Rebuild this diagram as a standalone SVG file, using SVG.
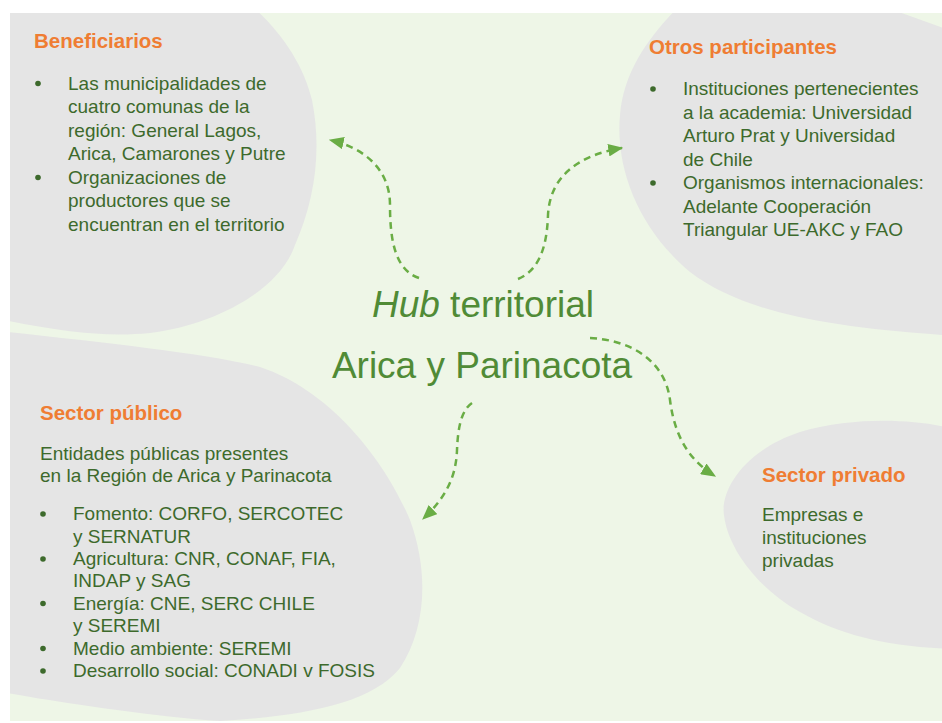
<svg xmlns="http://www.w3.org/2000/svg" width="942" height="723" viewBox="0 0 942 723">
  <style>
    .blob { fill: #e5e5e5; }
    .title { font-family: "Liberation Sans", Arial, sans-serif; font-weight: bold; font-size: 20.5px; fill: #ef7d33; }
    .body { font-family: "Liberation Sans", Arial, sans-serif; font-size: 19px; fill: #3d6a2c; }
    .hub { font-family: "Liberation Sans", Arial, sans-serif; font-size: 37px; fill: #508b36; }
    .dot { fill: #3d6a2c; }
    .conn { fill: none; stroke: #6aad45; stroke-width: 2.5; stroke-dasharray: 7 5; }
  </style>
  <defs>
    <clipPath id="panel">
      <rect x="10" y="13" width="932" height="708"/>
    </clipPath>
    <marker id="arrow" viewBox="0 0 12 10" refX="11" refY="5" markerUnits="userSpaceOnUse" markerWidth="15" markerHeight="12.5" orient="auto">
      <path d="M0,0 L12,5 L0,10 Z" fill="#6aad45"/>
    </marker>
  </defs>
  <rect x="0" y="0" width="942" height="723" fill="#ffffff"/>
  <rect x="10" y="13" width="932" height="708" fill="#eef6e7"/>

  <g id="beneficiarios">
    <path class="blob" clip-path="url(#panel)" d="M -20,-20 L 215,-20 C 260,5 300,50 312,100 C 322,150 315,200 295,245 C 280,290 215,325 150,333 C 100,338 50,330 -20,315 Z"/>
    <text class="title" x="34" y="48">Beneficiarios</text>
    <circle class="dot" cx="38" cy="83.5" r="2.8"/>
    <circle class="dot" cx="38" cy="177.5" r="2.8"/>
    <text class="body" x="68" y="89.5">Las municipalidades de</text>
    <text class="body" x="68" y="113">cuatro comunas de la</text>
    <text class="body" x="68" y="136.5">región: General Lagos,</text>
    <text class="body" x="68" y="160">Arica, Camarones y Putre</text>
    <text class="body" x="68" y="183.5">Organizaciones de</text>
    <text class="body" x="68" y="207">productores que se</text>
    <text class="body" x="68" y="230.5">encuentran en el territorio</text>
  </g>

  <g id="otros-participantes">
    <path class="blob" clip-path="url(#panel)" d="M 705,-20 C 670,15 625,55 620,115 C 615,170 640,230 690,272 C 740,310 820,328 960,336 L 960,34 L 810,-20 Z"/>
    <text class="title" x="649" y="54">Otros participantes</text>
    <circle class="dot" cx="653" cy="89" r="2.8"/>
    <circle class="dot" cx="653" cy="183" r="2.8"/>
    <text class="body" x="683" y="95">Instituciones pertenecientes</text>
    <text class="body" x="683" y="118.5">a la academia: Universidad</text>
    <text class="body" x="683" y="142">Arturo Prat y Universidad</text>
    <text class="body" x="683" y="165.5">de Chile</text>
    <text class="body" x="683" y="189">Organismos internacionales:</text>
    <text class="body" x="683" y="212.5">Adelante Cooperación</text>
    <text class="body" x="683" y="236">Triangular UE-AKC y FAO</text>
  </g>

  <g id="sector-publico">
    <path class="blob" clip-path="url(#panel)" d="M -20,329 C 80,340 200,352 260,367 C 330,390 385,460 410,520 C 430,575 425,630 400,668 C 370,705 300,716 220,721 C 150,716 60,703 -20,688 Z"/>
    <text class="title" x="40" y="420">Sector público</text>
    <text class="body" x="40" y="460">Entidades públicas presentes</text>
    <text class="body" x="40" y="482">en la Región de Arica y Parinacota</text>
    <circle class="dot" cx="43" cy="514" r="2.8"/>
    <circle class="dot" cx="43" cy="559" r="2.8"/>
    <circle class="dot" cx="43" cy="603.5" r="2.8"/>
    <circle class="dot" cx="43" cy="648.5" r="2.8"/>
    <circle class="dot" cx="43" cy="671" r="2.8"/>
    <text class="body" x="73" y="520">Fomento: CORFO, SERCOTEC</text>
    <text class="body" x="73" y="542.5">y SERNATUR</text>
    <text class="body" x="73" y="565">Agricultura: CNR, CONAF, FIA,</text>
    <text class="body" x="73" y="587">INDAP y SAG</text>
    <text class="body" x="73" y="609.5">Energía: CNE, SERC CHILE</text>
    <text class="body" x="73" y="632">y SEREMI</text>
    <text class="body" x="73" y="654.5">Medio ambiente: SEREMI</text>
    <text class="body" x="73" y="677">Desarrollo social: CONADI v FOSIS</text>
  </g>

  <g id="sector-privado">
    <path class="blob" clip-path="url(#panel)" d="M 960,430 C 920,420 860,415 800,432 C 745,450 720,490 724,515 C 728,550 760,590 800,612 C 840,635 890,648 960,649 Z"/>
    <text class="title" x="762" y="482">Sector privado</text>
    <text class="body" x="762" y="521">Empresas e</text>
    <text class="body" x="762" y="543.5">instituciones</text>
    <text class="body" x="762" y="566.5">privadas</text>
  </g>

  <g id="hub">
    <text class="hub" x="483" y="317" text-anchor="middle"><tspan font-style="italic">Hub</tspan> territorial</text>
    <text class="hub" x="482" y="378" text-anchor="middle">Arica y Parinacota</text>
  </g>

  <g id="connectors">
    <path class="conn" marker-end="url(#arrow)" d="M419,278 C395,270 390,240 390,205 C390,170 365,148 330,140"/>
    <path class="conn" marker-end="url(#arrow)" d="M518,279 C540,270 547,245 548,215 C550,175 580,155 622,148"/>
    <path class="conn" marker-end="url(#arrow)" d="M590,338 C630,340 665,360 670,400 C675,440 692,462 715,476"/>
    <path class="conn" marker-end="url(#arrow)" d="M472,403 C462,410 458,425 457,450 C456,480 443,500 423,519"/>
  </g>
</svg>
